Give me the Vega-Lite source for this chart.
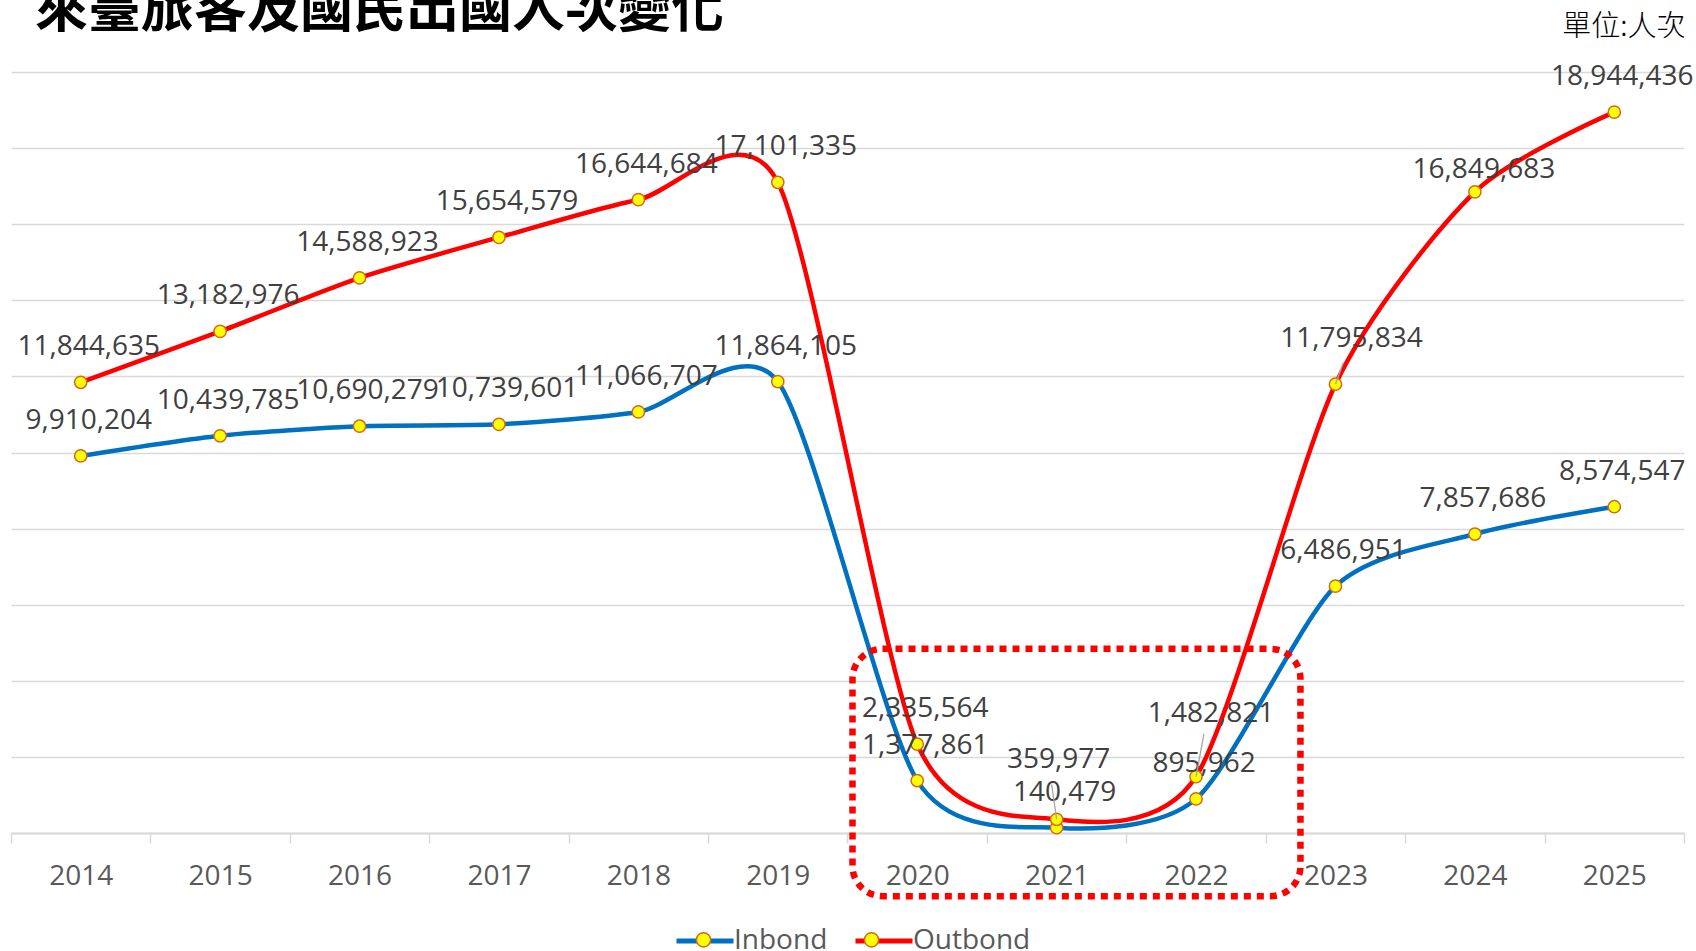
{
  "$schema": "https://vega.github.io/schema/vega-lite/v6.json",
  "width": 1673,
  "height": 761,
  "autosize": "none",
  "padding": {"left": 11, "top": 72, "right": 12, "bottom": 118},
  "background": "#ffffff",
  "config": {
    "view": {"stroke": null},
    "text": {"font": "Open Sans"}
  },
  "title": {
    "text": "來臺旅客及國民出國人次變化",
    "anchor": "start",
    "frame": "group",
    "font": "Noto Sans CJK TC",
    "fontSize": 53,
    "fontWeight": "bold",
    "color": "#000000",
    "baseline": "alphabetic",
    "offset": -68,
    "dx": 24
  },
  "datasets": {
    "travel": [
      {"year": "2014", "series": "Inbond", "value": 9910204},
      {"year": "2015", "series": "Inbond", "value": 10439785},
      {"year": "2016", "series": "Inbond", "value": 10690279},
      {"year": "2017", "series": "Inbond", "value": 10739601},
      {"year": "2018", "series": "Inbond", "value": 11066707},
      {"year": "2019", "series": "Inbond", "value": 11864105},
      {"year": "2020", "series": "Inbond", "value": 1377861},
      {"year": "2021", "series": "Inbond", "value": 140479},
      {"year": "2022", "series": "Inbond", "value": 895962},
      {"year": "2023", "series": "Inbond", "value": 6486951},
      {"year": "2024", "series": "Inbond", "value": 7857686},
      {"year": "2025", "series": "Inbond", "value": 8574547},
      {"year": "2014", "series": "Outbond", "value": 11844635},
      {"year": "2015", "series": "Outbond", "value": 13182976},
      {"year": "2016", "series": "Outbond", "value": 14588923},
      {"year": "2017", "series": "Outbond", "value": 15654579},
      {"year": "2018", "series": "Outbond", "value": 16644684},
      {"year": "2019", "series": "Outbond", "value": 17101335},
      {"year": "2020", "series": "Outbond", "value": 2335564},
      {"year": "2021", "series": "Outbond", "value": 359977},
      {"year": "2022", "series": "Outbond", "value": 1482821},
      {"year": "2023", "series": "Outbond", "value": 11795834},
      {"year": "2024", "series": "Outbond", "value": 16849683},
      {"year": "2025", "series": "Outbond", "value": 18944436}
    ],
    "box": [
      {"from": "2020", "to": "2023", "top": 4840000, "bottom": -1660000}
    ]
  },
  "data": {"name": "travel"},
  "encoding": {
    "x": {
      "field": "year",
      "type": "ordinal",
      "bandPosition": 0.5,
      "scale": {"type": "band", "paddingInner": 0, "paddingOuter": 0},
      "axis": {
        "title": null,
        "labelAngle": 0,
        "labelFont": "Open Sans",
        "labelFontSize": 28,
        "labelColor": "#595959",
        "labelBaseline": "alphabetic",
        "labelPadding": 41,
        "tickBand": "extent",
        "tickSize": 10,
        "tickColor": "#d9d9d9",
        "tickWidth": 1.5,
        "domainColor": "#d9d9d9",
        "domainWidth": 2,
        "grid": false
      }
    },
    "y": {
      "field": "value",
      "type": "quantitative",
      "scale": {"domain": [0, 20000000], "nice": false},
      "axis": {
        "orient": "right",
        "values": [0, 2000000, 4000000, 6000000, 8000000, 10000000, 12000000, 14000000, 16000000, 18000000, 20000000],
        "labels": false,
        "ticks": false,
        "domain": false,
        "grid": true,
        "gridColor": "#d9d9d9",
        "gridWidth": 1.5,
        "title": "單位:人次",
        "titleAngle": 0,
        "titleAlign": "right",
        "titleBaseline": "alphabetic",
        "titleX": 1,
        "titleY": -37,
        "titleFont": "Noto Sans CJK TC",
        "titleFontSize": 29,
        "titleFontWeight": 300,
        "titleColor": "#000000"
      }
    }
  },
  "layer": [
    {
      "mark": {"type": "line", "interpolate": "cardinal", "tension": 0.25, "strokeWidth": 4.5},
      "encoding": {
        "color": {
          "field": "series",
          "type": "nominal",
          "scale": {"domain": ["Inbond", "Outbond"], "range": ["#0070C0", "#FF0000"]},
          "legend": {
            "orient": "none",
            "legendX": 663,
            "legendY": 838,
            "direction": "horizontal",
            "title": null,
            "padding": 0,
            "symbolType": "M-1,0L1,0",
            "symbolSize": 3249,
            "symbolStrokeWidth": 5,
            "labelFont": "Open Sans",
            "labelFontSize": 28,
            "labelColor": "#595959",
            "labelOffset": -2,
            "columnPadding": 17
          }
        }
      }
    },
    {
      "mark": {"type": "point", "filled": true, "size": 150, "stroke": "#D2691E", "strokeWidth": 1.5, "opacity": 1},
      "encoding": {
        "fill": {
          "field": "series",
          "type": "nominal",
          "scale": {"range": ["#FFFF00", "#FFFF00"]},
          "legend": {
            "orient": "none",
            "legendX": 663,
            "legendY": 838,
            "direction": "horizontal",
            "title": null,
            "padding": 0,
            "symbolType": "M0.25,0A0.25,0.25 0 1,1 -0.25,0A0.25,0.25 0 1,1 0.25,0Z",
            "symbolSize": 3249,
            "symbolStrokeColor": "#D2691E",
            "symbolStrokeWidth": 1.5,
            "symbolFillColor": "#FFFF00",
            "labelFont": "Open Sans",
            "labelFontSize": 28,
            "labelOpacity": 0,
            "labelOffset": -2,
            "columnPadding": 17
          }
        }
      }
    },
    {
      "transform": [{"filter": "!(datum.series == 'Outbond' && (datum.year == '2021' || datum.year == '2022' || datum.year == '2023' || datum.year == '2024'))"}],
      "mark": {"type": "text", "align": "center", "baseline": "alphabetic", "dx": 8, "dy": -27, "fontSize": 28, "font": "Open Sans", "color": "#404040"},
      "encoding": {"text": {"field": "value", "type": "quantitative", "format": ","}}
    },
    {
      "transform": [{"filter": "datum.series == 'Outbond' && datum.year == '2021'"}],
      "mark": {"type": "text", "align": "center", "baseline": "alphabetic", "dx": 2, "dy": -51, "fontSize": 28, "font": "Open Sans", "color": "#404040"},
      "encoding": {"text": {"field": "value", "type": "quantitative", "format": ","}}
    },
    {
      "transform": [{"filter": "datum.series == 'Outbond' && datum.year == '2022'"}],
      "mark": {"type": "text", "align": "center", "baseline": "alphabetic", "dx": 15, "dy": -55, "fontSize": 28, "font": "Open Sans", "color": "#404040"},
      "encoding": {"text": {"field": "value", "type": "quantitative", "format": ","}}
    },
    {
      "transform": [{"filter": "datum.series == 'Outbond' && datum.year == '2023'"}],
      "mark": {"type": "text", "align": "center", "baseline": "alphabetic", "dx": 16, "dy": -37, "fontSize": 28, "font": "Open Sans", "color": "#404040"},
      "encoding": {"text": {"field": "value", "type": "quantitative", "format": ","}}
    },
    {
      "transform": [{"filter": "datum.series == 'Outbond' && datum.year == '2024'"}],
      "mark": {"type": "text", "align": "center", "baseline": "alphabetic", "dx": 9, "dy": -14, "fontSize": 28, "font": "Open Sans", "color": "#404040"},
      "encoding": {"text": {"field": "value", "type": "quantitative", "format": ","}}
    },
    {
      "transform": [{"filter": "datum.series == 'Outbond' && datum.year == '2021'"}],
      "mark": {"type": "rule", "color": "#a6a6a6", "strokeWidth": 1.3, "y2Offset": -35, "x2Offset": -5},
      "encoding": {"x2": {"field": "year"}, "y2": {"field": "value"}}
    },
    {
      "transform": [{"filter": "datum.series == 'Outbond' && datum.year == '2022'"}],
      "mark": {"type": "rule", "color": "#a6a6a6", "strokeWidth": 1.3, "y2Offset": -43, "x2Offset": 8},
      "encoding": {"x2": {"field": "year"}, "y2": {"field": "value"}}
    },
    {
      "transform": [{"filter": "datum.series == 'Outbond' && datum.year == '2023'"}],
      "mark": {"type": "rule", "color": "#a6a6a6", "strokeWidth": 1.3, "y2Offset": -22, "x2Offset": 8},
      "encoding": {"x2": {"field": "year"}, "y2": {"field": "value"}}
    },
    {
      "data": {"name": "box"},
      "mark": {"type": "rect", "fillOpacity": 0, "stroke": "#FF0000", "strokeWidth": 6.5, "strokeDash": [7, 6], "cornerRadius": 30, "xOffset": 5, "x2Offset": -35},
      "encoding": {
        "x": {"field": "from", "type": "ordinal", "bandPosition": 0},
        "x2": {"field": "to"},
        "y": {"field": "top", "type": "quantitative"},
        "y2": {"field": "bottom"}
      }
    }
  ]
}
